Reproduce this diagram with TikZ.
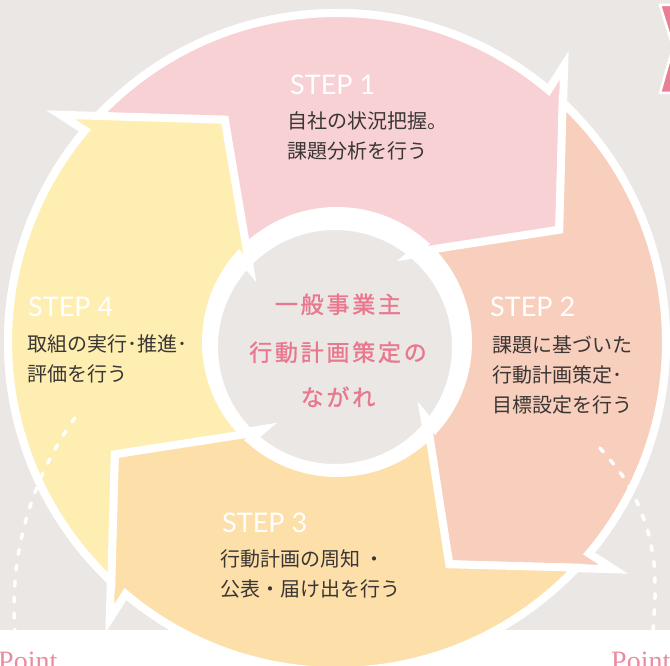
\documentclass[tikz,border=0pt]{standalone}
\usepackage{fontspec}
\newfontfamily\jp{Noto Sans CJK JP}
\newfontfamily\jpc[LetterSpace=12, FakeBold=1.2]{Noto Sans CJK JP}
\newfontfamily\stepf{Lato}
\newfontfamily\ptf{Liberation Serif}
\definecolor{bg}{HTML}{EBE7E4}
\definecolor{pinkA}{HTML}{F8D1D4}
\definecolor{peachA}{HTML}{F8CEBD}
\definecolor{orangeA}{HTML}{FDDFAA}
\definecolor{yellowA}{HTML}{FEEEB2}
\definecolor{centerpink}{HTML}{E9778D}
\definecolor{bodytext}{HTML}{3A3634}
\definecolor{xpink}{HTML}{E97F94}
\definecolor{pointpink}{HTML}{EC8BA0}
\tikzset{
  arrowpiece/.style={draw=white, line width=8pt, line join=miter, miter limit=10},
  steplabel/.style={anchor=base west, inner sep=0pt, text=white, font=\stepf\fontsize{27}{27}\selectfont},
  bodyline/.style={anchor=base west, inner sep=0pt, text=bodytext, font=\jp\fontsize{20}{20}\selectfont},
  centerline/.style={anchor=base, inner sep=0pt, text=centerpink, font=\jpc\fontsize{23}{23}\selectfont},
  pointlabel/.style={anchor=base west, inner sep=0pt, text=pointpink, font=\ptf\fontsize{28}{28}\selectfont},
  dashcurve/.style={draw=white, line width=3.5pt, line cap=round, dash pattern=on 5pt off 11pt}
}
\begin{document}
\begin{tikzpicture}[x=1pt,y=1pt]
\useasboundingbox (0,0) rectangle (670,666);
\fill[bg] (0,36) rectangle (670,666);
\fill[white] (0,0) rectangle (670,36);
% partial pink shape at top right
\path[fill=xpink, draw=white, line width=2.5pt, line join=miter] (660,661) -- (690,661) -- (690,573) -- (660,573) -- (673,619) -- cycle;
\coordinate (C) at (337,324);
% white disk
\fill[white] (C) circle[radius=333];
% centre disc
\path[fill=bg, draw=white, line width=10pt] (335,319) circle[radius=122];
% four arrows
\foreach \col [count=\k from 0] in {pinkA,peachA,orangeA,yellowA} {
  \path[arrowpiece, fill=\col, shift={(C)}, rotate=-90*\k]
    (136.7:329) arc[start angle=136.7, end angle=50, radius=329]
    -- (50.6:358) -- (26.8:249) -- (49.8:114) -- (48.5:131)
    arc[start angle=48.5, end angle=134.8, radius=131]
    -- (116.8:249) -- cycle;
}
% dashed curves
\draw[dashcurve] (338,59) ++(144.3:324) arc[start angle=144.3, end angle=184, radius=324];
\draw[dashcurve] plot[smooth] coordinates {(600,218) (622,191) (637,164) (648,134) (654,103) (655,69) (653,36)};
% step 1
\node[steplabel] (s1) at (290,571) {STEP 1};
\node[bodyline] (t1a) at (287,537) {自社の状況把握。};
\node[bodyline] (t1b) at (287,507) {課題分析を行う};
% step 2
\node[steplabel] (s2) at (490,349) {STEP 2};
\node[bodyline] (t2a) at (492,313) {課題に基づいた};
\node[bodyline] (t2b) at (492,283) {行動計画策定･};
\node[bodyline] (t2c) at (492,253) {目標設定を行う};
% step 3
\node[steplabel] (s3) at (222,133) {STEP 3};
\node[bodyline] (t3a) at (220,99) {行動計画の周知 ・};
\node[bodyline] (t3b) at (220,69) {公表・届け出を行う};
% step 4
\node[steplabel] (s4) at (28,349) {STEP 4};
\node[bodyline] (t4a) at (27,314) {取組の実行･推進･};
\node[bodyline] (t4b) at (27,284) {評価を行う};
% centre
\node[centerline] (c1) at (338,353) {一般事業主};
\node[centerline] (c2) at (338,305) {行動計画策定の};
\node[centerline] (c3) at (338,260) {ながれ};
% Point labels (cut by the lower edge, as in the reference)
\node[pointlabel] (p1) at (-2,-5) {Point};
\node[pointlabel] (p2) at (611,-5) {Point};
\end{tikzpicture}
\end{document}
